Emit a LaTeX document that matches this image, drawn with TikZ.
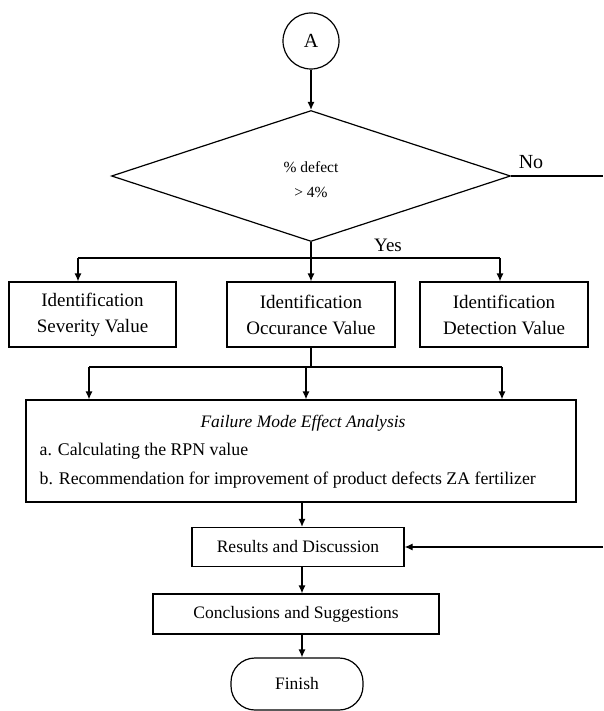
\documentclass[tikz,border=0pt]{standalone}
\usepackage{fontspec}
\setmainfont{Liberation Serif}
\usetikzlibrary{shapes.geometric,arrows.meta}
\begin{document}
\begin{tikzpicture}[x=1pt,y=-1pt,
  line width=1.2pt,
  arr/.style={-{Latex[length=8pt,width=7pt]}},
  box/.style={draw, rectangle, inner sep=0pt, font=\fontsize{17.5}{21}\selectfont},
  idbox/.style={box, minimum width=167pt, minimum height=65pt, align=center, font=\fontsize{19}{26}\selectfont},
  lbl/.style={inner sep=0pt, font=\fontsize{17.8}{21}\selectfont},
]
\useasboundingbox (0,0) rectangle (603,711);
% start connector and decision
\node[draw, circle, minimum size=56pt, inner sep=0pt, font=\fontsize{20}{24}\selectfont] (A) at (311,41) {A};
\node[draw, diamond, minimum width=399pt, minimum height=131pt, inner sep=0pt] (dec) at (311,176) {};
\node[inner sep=0pt, align=center, font=\fontsize{15.5}{25}\selectfont] (dect) at (311,180) {\% defect\\ > 4\%};
\draw[arr] (A.south) -- (dec.north);
\node[inner sep=0pt, font=\fontsize{20}{24}\selectfont] (no) at (531,162) {No};
\coordinate (noend) at (603,176);
\draw (dec.east) -- (noend);
\node[inner sep=0pt, font=\fontsize{19}{24}\selectfont] (yes) at (388,245) {Yes};
% identification boxes
\node[idbox] (sev) at (92.5,314.5) {Identification\\Severity Value};
\node[idbox, minimum width=168pt] (occ) at (311,314.5) {Identification\\Occurance Value};
\node[idbox, minimum width=168pt] (det) at (504,314.5) {Identification\\Detection Value};
\coordinate (j0) at (311,258);
\coordinate (jl) at (78,258);
\coordinate (jr) at (500,258);
\draw (dec.south) -- (j0);
\draw (jl) -- (jr);
\draw[arr] (jl) -- (jl |- sev.north);
\draw[arr] (j0) -- (j0 |- occ.north);
\draw[arr] (jr) -- (jr |- det.north);
% FMEA
\node[box, minimum width=550pt, minimum height=102pt] (fmea) at (301,451) {};
\node[lbl, font=\itshape\fontsize{17.5}{21}\selectfont] (fmt) at (303,423) {Failure Mode Effect Analysis};
\node[lbl, anchor=west] (fa) at (39,451) {a. Calculating the RPN value};
\node[lbl, anchor=west] (fb) at (39,480) {b. Recommendation for improvement of product defects ZA fertilizer};
\coordinate (kl) at (89,367);
\coordinate (km) at (306,367);
\coordinate (kr) at (502,367);
\draw (occ.south) -- (occ.south |- kl);
\draw (kl) -- (kr);
\draw[arr] (kl) -- (kl |- fmea.north);
\draw[arr] (km) -- (km |- fmea.north);
\draw[arr] (kr) -- (kr |- fmea.north);
% lower chain
\coordinate (ax) at (302,0);
\node[box, minimum width=212pt, minimum height=39pt] (res) at (298,547) {Results and Discussion};
\node[box, minimum width=286pt, minimum height=40pt] (con) at (296,614) {Conclusions and Suggestions};
\node[draw, rounded corners=24pt, inner sep=0pt, minimum width=132pt, minimum height=52pt, font=\fontsize{17.5}{21}\selectfont] (fin) at (297,684) {Finish};
\draw[arr] (fmea.south -| ax) -- (res.north -| ax);
\draw[arr] (res.south -| ax) -- (con.north -| ax);
\draw[arr] (con.south -| ax) -- (fin.north -| ax);
\coordinate (rin) at (603,547);
\draw[arr] (rin) -- (res.east);
\end{tikzpicture}
\end{document}
